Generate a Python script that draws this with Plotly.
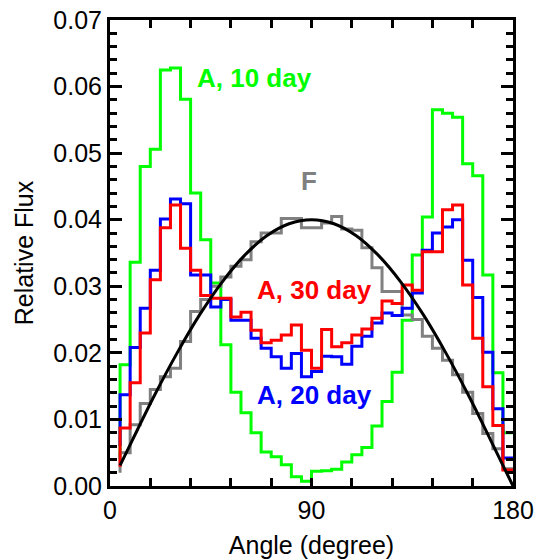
import numpy as np
import plotly.graph_objects as go

# Bin right edges (degrees); each histogram value covers the 4.5-degree bin ending at the next edge
angle_edges = np.arange(4.5, 180.01, 4.5)

flux_F = [0.0020, 0.0050, 0.0092, 0.0124, 0.0145, 0.0164, 0.0177, 0.0217, 0.0262, 0.0280,
          0.0300, 0.0314, 0.0330, 0.0340, 0.0367, 0.0380, 0.0380, 0.0402, 0.0402, 0.0388,
          0.0388, 0.0395, 0.0405, 0.0386, 0.0384, 0.0358, 0.0328, 0.0292, 0.0292, 0.0257,
          0.0250, 0.0225, 0.0207, 0.0189, 0.0167, 0.0141, 0.0109, 0.0079, 0.0056, 0.0026]

flux_A10 = [0.0040, 0.0182, 0.0336, 0.0480, 0.0506, 0.0625, 0.0628, 0.0581, 0.0440, 0.0370,
            0.0305, 0.0212, 0.0141, 0.0110, 0.0080, 0.0051, 0.0044, 0.0032, 0.0014, 0.0007,
            0.0022, 0.0023, 0.0025, 0.0036, 0.0047, 0.0058, 0.0090, 0.0127, 0.0171, 0.0249,
            0.0347, 0.0404, 0.0565, 0.0560, 0.0554, 0.0484, 0.0466, 0.0317, 0.0170, 0.0080]

flux_A20 = [0.0060, 0.0137, 0.0208, 0.0267, 0.0324, 0.0401, 0.0431, 0.0424, 0.0317, 0.0317,
            0.0269, 0.0280, 0.0249, 0.0249, 0.0222, 0.0207, 0.0194, 0.0177, 0.0199, 0.0164,
            0.0172, 0.0195, 0.0194, 0.0183, 0.0210, 0.0225, 0.0245, 0.0260, 0.0256, 0.0267,
            0.0290, 0.0354, 0.0380, 0.0389, 0.0400, 0.0339, 0.0283, 0.0201, 0.0116, 0.0042]

flux_A30 = [0.0029, 0.0087, 0.0155, 0.0230, 0.0310, 0.0388, 0.0422, 0.0357, 0.0324, 0.0286,
            0.0282, 0.0282, 0.0254, 0.0261, 0.0234, 0.0215, 0.0219, 0.0227, 0.0242, 0.0204,
            0.0177, 0.0235, 0.0209, 0.0215, 0.0227, 0.0236, 0.0252, 0.0278, 0.0274, 0.0302,
            0.0294, 0.0352, 0.0352, 0.0415, 0.0422, 0.0302, 0.0222, 0.0149, 0.0091, 0.0024]

# Smooth reference curve sampled along its path
curve_angle = [4.5, 10, 20, 30, 40, 50, 60, 70, 80, 90, 100, 110, 120, 130, 140, 150, 160, 170, 180]
curve_flux = [0.0031, 0.0069, 0.0137, 0.0200, 0.0257, 0.0306, 0.0346, 0.0376, 0.0394, 0.0400,
              0.0394, 0.0376, 0.0346, 0.0306, 0.0257, 0.0200, 0.0137, 0.0069, 0.0]

FONT = "Liberation Sans, Arial, sans-serif"

fig = go.Figure()

steps = [
    (flux_A10, "#00ff00", "A, 10 day"),
    (flux_F, "#808080", "F"),
    (flux_A20, "#0000ff", "A, 20 day"),
    (flux_A30, "#ff0000", "A, 30 day"),
]
for vals, color, name in steps:
    fig.add_trace(go.Scatter(x=angle_edges, y=vals, mode="lines", name=name,
                             line=dict(color=color, width=3, shape="vh")))

fig.add_trace(go.Scatter(x=curve_angle, y=curve_flux, mode="lines", name="curve",
                         line=dict(color="black", width=3, shape="spline", smoothing=1.0)))

labels = [
    ("A, 10 day", 64.7, 0.0613, "#00ff00"),
    ("F", 89.0, 0.0458, "#808080"),
    ("A, 30 day", 91.3, 0.0294, "#ff0000"),
    ("A, 20 day", 91.3, 0.0137, "#0000ff"),
]
for txt, xv, yv, col in labels:
    fig.add_annotation(x=xv, y=yv, text="<b>%s</b>" % txt, showarrow=False,
                       font=dict(family=FONT, size=26, color=col),
                       xanchor="center", yanchor="middle")

fig.update_layout(
    width=537, height=560,
    margin=dict(l=110, r=24, t=20, b=74),
    paper_bgcolor="white", plot_bgcolor="white",
    showlegend=False,
    font=dict(family=FONT, size=25, color="black"),
)

fig.update_xaxes(
    range=[0, 180], tickvals=[0, 90, 180], ticktext=["0", "90", "180"],
    ticks="inside", ticklen=8, tickwidth=2.5, tickcolor="black",
    minor=dict(dtick=18, tick0=0, ticks="inside", ticklen=8, tickwidth=2.5, tickcolor="black"),
    showline=True, linewidth=3, linecolor="black", mirror="allticks",
    showgrid=False, zeroline=False, automargin=False,
    title=dict(text="Angle (degree)", font=dict(size=25), standoff=14),
    tickfont=dict(size=25),
)
fig.update_yaxes(
    range=[0, 0.07], dtick=0.01, tick0=0, tickformat=".2f",
    ticks="inside", ticklen=12, tickwidth=2.5, tickcolor="black",
    minor=dict(dtick=0.002, ticks="inside", ticklen=7, tickwidth=2.5, tickcolor="black"),
    showline=True, linewidth=3, linecolor="black", mirror="allticks",
    showgrid=False, zeroline=False, automargin=False,
    title=dict(text="Relative Flux", font=dict(size=25), standoff=13),
    tickfont=dict(size=25),
)

fig.write_html("out.html")
